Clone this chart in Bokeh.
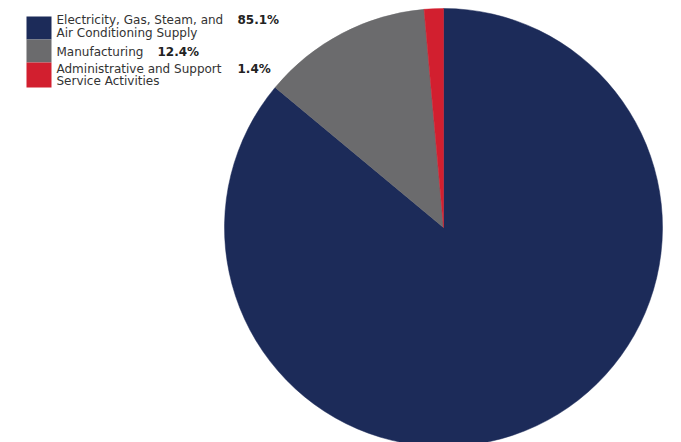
import math
from bokeh.plotting import figure
from bokeh.models import ColumnDataSource, Range1d
from bokeh.core.properties import value
from bokeh.embed import file_html
from bokeh.resources import INLINE

categories = ["Electricity, Gas, Steam, and Air Conditioning Supply",
              "Manufacturing",
              "Administrative and Support Service Activities"]
shares = [85.1, 12.4, 1.4]
share_labels = ["85.1%", "12.4%", "1.4%"]
colors = ["#1c2b59", "#6b6b6d", "#d21f2f"]
label_lines = [["Electricity, Gas, Steam, and", "Air Conditioning Supply"],
               ["Manufacturing"],
               ["Administrative and Support", "Service Activities"]]

W, H = 681, 442
p = figure(width=W, height=H, output_backend="svg", toolbar_location=None,
           x_range=Range1d(0, W), y_range=Range1d(0, H), min_border=0)
p.axis.visible = False
p.grid.visible = False
p.outline_line_color = None
p.background_fill_color = "white"

total = sum(shares)
starts, ends = [], []
cum = 0.0
for s in shares:
    starts.append(math.pi / 2 - 2 * math.pi * cum / total)
    cum += s
    ends.append(math.pi / 2 - 2 * math.pi * cum / total)

src = ColumnDataSource(dict(start=starts, end=ends, color=colors))
cx, cy, r = 443, 215, 219
p.wedge(x=cx, y=cy, radius=r, start_angle="start", end_angle="end",
        direction="clock", fill_color="color", line_color="color",
        line_width=0.5, source=src)

# legend
sw_top = [426, 403, 380]
sw_bot = [403, 380, 355]
p.quad(left=26, right=51, top=sw_top, bottom=sw_bot, fill_color=colors,
       line_color=None)

line_ys = [[422.5, 410], [391], [374, 362]]
pct_x = [237, 157, 237]
font = value("DejaVu Sans")
for lines, ys, pct, px in zip(label_lines, line_ys, share_labels, pct_x):
    p.text(x=[56] * len(lines), y=ys, text=lines, text_font=font,
           text_font_size="12px", text_baseline="middle",
           text_color="#333333")
    p.text(x=[px], y=[ys[0]], text=[pct], text_font=font,
           text_font_size="12px", text_font_style="bold",
           text_baseline="middle", text_color="#222222")

open("out.html", "w").write(file_html(p, INLINE))
